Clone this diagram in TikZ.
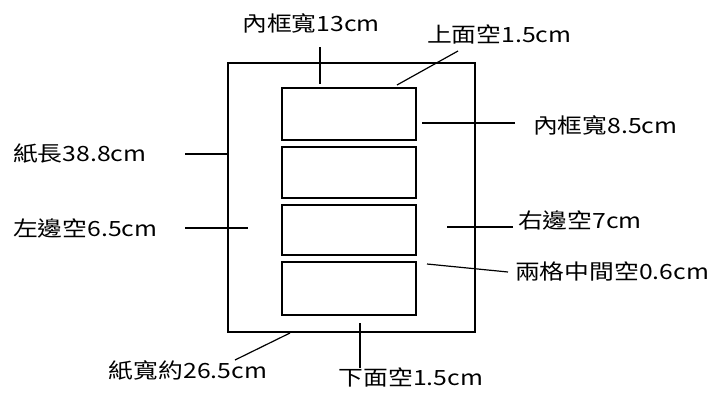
\documentclass[tikz,border=0pt]{standalone}
\usepackage{fontspec}
\newfontfamily\cjk[FakeStretch=1.18]{Noto Sans CJK TC}
\usetikzlibrary{positioning}

\begin{document}
\begin{tikzpicture}[x=1pt,y=-1pt]
\tikzset{paper/.style = {shape=rectangle,draw,line width=1.4pt,minimum width=247pt,minimum height=269pt}}
\tikzset{cell/.style = {shape=rectangle,draw,line width=1.4pt,minimum width=134pt}}
\tikzset{lbl/.style = {font=\cjk\fontsize{21}{21}\selectfont,inner sep=0pt}}
\tikzset{lead/.style = {line width=1.2pt}}
\useasboundingbox (0,0) rectangle (723,394);

\node[paper] (sheet) at (351.5,197.5) {};
\node[cell, minimum height=52pt] (c1) at (349,114) {};
\node[cell, minimum height=51pt] (c2) at (349,172.5) {};
\node[cell, minimum height=50pt] (c3) at (349,230) {};
\node[cell, minimum height=53pt] (c4) at (349,288.5) {};

\node[lbl] (w13) at (311,23) {內框寬13cm};
\node[lbl, anchor=west] (top) at (427,34) {上面空1.5cm};
\node[lbl, anchor=west] (h85) at (533,125) {內框寬8.5cm};
\node[lbl, anchor=west] (len) at (13,154) {紙長38.8cm};
\node[lbl, anchor=west] (left) at (13,228) {左邊空6.5cm};
\node[lbl, anchor=west] (right) at (518,220) {右邊空7cm};
\node[lbl, anchor=west] (gap) at (515,271) {兩格中間空0.6cm};
\node[lbl] (wid) at (188,370) {紙寬約26.5cm};
\node[lbl] (bot) at (411,377) {下面空1.5cm};

\coordinate (w13a) at (320,47);
\coordinate (w13b) at (320,84);
\coordinate (topa) at (458,51);
\coordinate (topb) at (397,85);
\coordinate (h85a) at (515,123);
\coordinate (h85b) at (422,123);
\coordinate (lena) at (185,154);
\coordinate (lenb) at (228,154);
\coordinate (lefta) at (185,228);
\coordinate (leftb) at (248,228);
\coordinate (righta) at (513,227);
\coordinate (rightb) at (447,227);
\coordinate (gapa) at (508,272);
\coordinate (gapb) at (427,264);
\coordinate (wida) at (235,360);
\coordinate (widb) at (290,333);
\coordinate (bota) at (360,368);
\coordinate (botb) at (360,323);

\draw[lead] (w13a) -- (w13b);
\draw[lead] (topa) -- (topb);
\draw[lead] (h85a) -- (h85b);
\draw[lead] (lena) -- (lenb);
\draw[lead] (lefta) -- (leftb);
\draw[lead] (righta) -- (rightb);
\draw[lead] (gapa) -- (gapb);
\draw[lead] (wida) -- (widb);
\draw[lead] (bota) -- (botb);
\end{tikzpicture}
\end{document}
